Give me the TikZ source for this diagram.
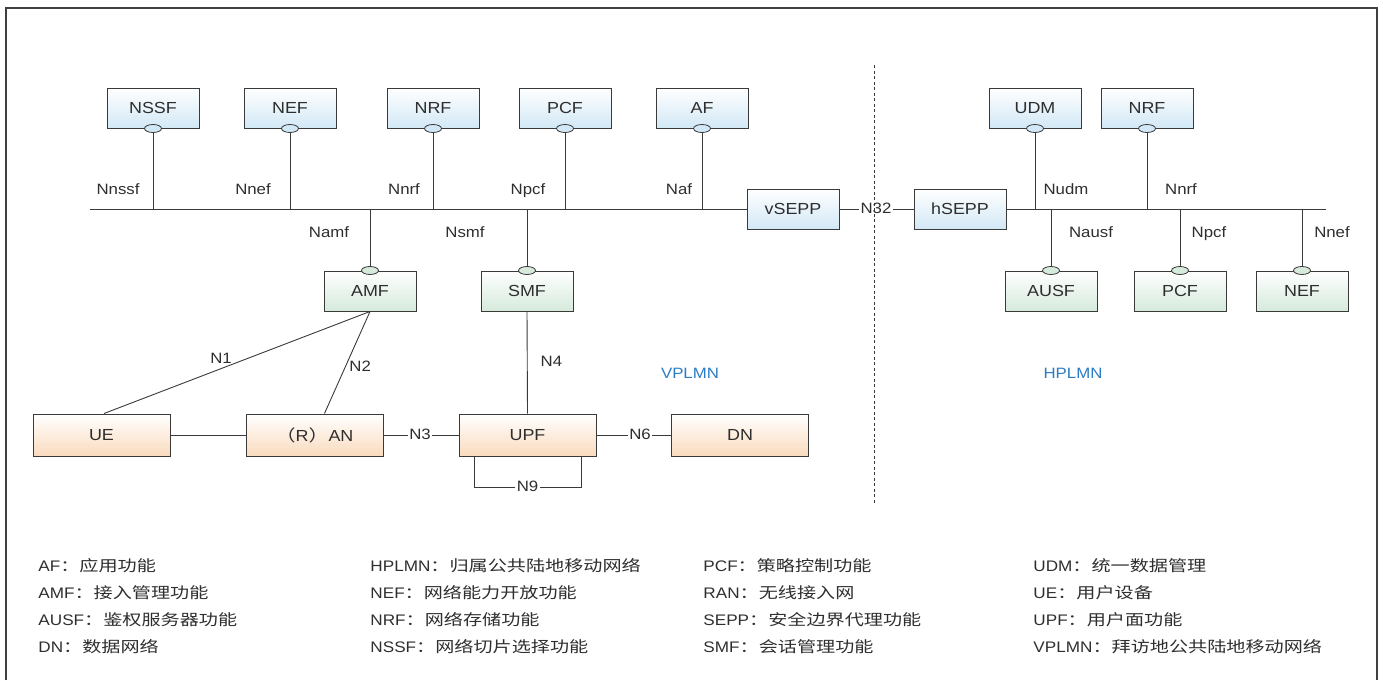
\documentclass[tikz,border=0pt]{standalone}
\usepackage{fontspec}
\setmainfont[FakeStretch=1.12]{Liberation Sans}
\newfontfamily\cjk[FakeStretch=1.25]{Noto Sans CJK SC}
\usetikzlibrary{shapes.geometric}
\definecolor{nfblue}{HTML}{D2E8F6}
\definecolor{nfgreen}{HTML}{D5EADB}
\definecolor{nforange}{HTML}{FADBBE}
\definecolor{linegray}{HTML}{3A3A3A}
\definecolor{textgray}{HTML}{2E2E2E}
\definecolor{plmnblue}{HTML}{2B7CC4}
\newcommand*{\lgd}[2]{#1{\cjk ：#2}}

\begin{document}
\begin{tikzpicture}[x=1pt, y=-1pt, line width=0.9pt, draw=linegray, text=textgray,
	nf/.style={draw=linegray, line width=1pt, minimum width=92pt, minimum height=40pt, inner sep=0pt, top color=white, font=\fontsize{16}{16}\selectfont},
	nfv/.style={nf, bottom color=nfblue},
	nfh/.style={nf, bottom color=nfgreen},
	nfu/.style={nf, minimum width=137pt, minimum height=42pt, bottom color=nforange},
	sbi/.style={draw=linegray, line width=0.8pt, ellipse, minimum width=17pt, minimum height=8pt, inner sep=0pt},
	lbl/.style={inner sep=1pt, text height=11pt, text depth=3pt, font=\fontsize{15}{15}\selectfont},
	lgd/.style={anchor=west, inner sep=0pt, font=\fontsize{15.3}{15.3}\selectfont},
	plmn/.style={text=plmnblue, font=\fontsize{15}{15}\selectfont}]
		\useasboundingbox (0,0) rectangle (1383,680);
		\draw[line width=1.5pt, draw=black!75] (6,680) -- (6,8) -- (1377,8) -- (1377,680);
		
		% visited network
		\coordinate (busL) at (90,209);
		\node[nfv] (nssf) at (153,108) {NSSF};
		\node[nfv] (nef) at (290,108) {NEF};
		\node[nfv] (nrf) at (433,108) {NRF};
		\node[nfv] (pcf) at (565,108) {PCF};
		\node[nfv] (af) at (702,108) {AF};
		\node[sbi, fill=nfblue] (nssf-e) at (nssf.south) {};
		\node[sbi, fill=nfblue] (nef-e) at (nef.south) {};
		\node[sbi, fill=nfblue] (nrf-e) at (nrf.south) {};
		\node[sbi, fill=nfblue] (pcf-e) at (pcf.south) {};
		\node[sbi, fill=nfblue] (af-e) at (af.south) {};
		\node[nfv] (vsepp) at (793,209) {vSEPP};
		\draw (busL) -- (vsepp.west);
		\draw (nssf-e.south) -- (nssf-e.south |- busL);
		\draw (nef-e.south) -- (nef-e.south |- busL);
		\draw (nrf-e.south) -- (nrf-e.south |- busL);
		\draw (pcf-e.south) -- (pcf-e.south |- busL);
		\draw (af-e.south) -- (af-e.south |- busL);
		\node[lbl] (l-nssf) at (118,190) {Nnssf};
		\node[lbl] (l-nef) at (253,190) {Nnef};
		\node[lbl] (l-nrf) at (404,190) {Nnrf};
		\node[lbl] (l-pcf) at (528,190) {Npcf};
		\node[lbl] (l-af) at (679,190) {Naf};
		
		\node[nfh] (amf) at (370,291) {AMF};
		\node[nfh] (smf) at (527,291) {SMF};
		\node[sbi, fill=nfgreen] (amf-e) at (amf.north) {};
		\node[sbi, fill=nfgreen] (smf-e) at (smf.north) {};
		\draw (amf-e.north) -- (amf-e.north |- busL);
		\draw (smf-e.north) -- (smf-e.north |- busL);
		\node[lbl] (l-amf) at (329,233) {Namf};
		\node[lbl] (l-smf) at (465,233) {Nsmf};
		
		% user plane
		\node[nfu] (ue) at (101.5,435) {UE};
		\node[nfu] (ran) at (314.5,435) {{\cjk （}R{\cjk ）}AN};
		\node[nfu] (upf) at (527.5,435) {UPF};
		\node[nfu] (dn) at (740,435) {DN};
		\node[lbl] (n3) at (420,435) {N3};
		\node[lbl] (n6) at (640,435) {N6};
		\node[lbl] (n9) at (527.5,487) {N9};
		\draw (ue) -- (ran);
		\draw (ran) -- (n3) -- (upf);
		\draw (upf) -- (n6) -- (dn);
		\draw ([xshift=-53.5pt]upf.south) |- (n9.west);
		\draw ([xshift=53.5pt]upf.south) |- (n9.east);
		\draw ([xshift=2.5pt]ue.north) -- (amf.south) node[lbl, pos=0.44, above=1pt] (n1) {N1};
		\draw ([xshift=10pt]ran.north) -- (amf.south) node[lbl, pos=0.45, right=3pt] (n2) {N2};
		\draw (smf.south) -- (upf.north) node[lbl, midway, right=12pt] (n4) {N4};
		\node[plmn] (vplmn) at (690,373) {VPLMN};
		
		% home network
		\draw[line width=0.8pt, dash pattern=on 3pt off 2.5pt] (874,65) -- (874,503);
		\node[nfv] (hsepp) at (960,209) {hSEPP};
		\node[lbl] (n32) at (876,209) {N32};
		\draw (vsepp) -- (n32) -- (hsepp);
		\coordinate (busR) at (1326,209);
		\draw (hsepp.east) -- (busR);
		\node[nfv] (udm) at (1035,108) {UDM};
		\node[nfv] (hnrf) at (1147,108) {NRF};
		\node[sbi, fill=nfblue] (udm-e) at (udm.south) {};
		\node[sbi, fill=nfblue] (hnrf-e) at (hnrf.south) {};
		\draw (udm-e.south) -- (udm-e.south |- busR);
		\draw (hnrf-e.south) -- (hnrf-e.south |- busR);
		\node[lbl] (l-udm) at (1066,190) {Nudm};
		\node[lbl] (l-hnrf) at (1181,190) {Nnrf};
		\node[nfh] (ausf) at (1051,291) {AUSF};
		\node[nfh] (hpcf) at (1180,291) {PCF};
		\node[nfh] (hnef) at (1302,291) {NEF};
		\node[sbi, fill=nfgreen] (ausf-e) at (ausf.north) {};
		\node[sbi, fill=nfgreen] (hpcf-e) at (hpcf.north) {};
		\node[sbi, fill=nfgreen] (hnef-e) at (hnef.north) {};
		\draw (ausf-e.north) -- (ausf-e.north |- busR);
		\draw (hpcf-e.north) -- (hpcf-e.north |- busR);
		\draw (hnef-e.north) -- (hnef-e.north |- busR);
		\node[lbl] (l-ausf) at (1091,233) {Nausf};
		\node[lbl] (l-hpcf) at (1209,233) {Npcf};
		\node[lbl] (l-hnef) at (1332,233) {Nnef};
		\node[plmn] (hplmn) at (1073,373) {HPLMN};
		
		% legend
		\node[lgd] (g1) at (38,566) {\lgd{AF}{应用功能}};
		\node[lgd] (g2) at (38,593) {\lgd{AMF}{接入管理功能}};
		\node[lgd] (g3) at (38,620) {\lgd{AUSF}{鉴权服务器功能}};
		\node[lgd] (g4) at (38,647) {\lgd{DN}{数据网络}};
		\node[lgd] (g5) at (370,566) {\lgd{HPLMN}{归属公共陆地移动网络}};
		\node[lgd] (g6) at (370,593) {\lgd{NEF}{网络能力开放功能}};
		\node[lgd] (g7) at (370,620) {\lgd{NRF}{网络存储功能}};
		\node[lgd] (g8) at (370,647) {\lgd{NSSF}{网络切片选择功能}};
		\node[lgd] (g9) at (703,566) {\lgd{PCF}{策略控制功能}};
		\node[lgd] (g10) at (703,593) {\lgd{RAN}{无线接入网}};
		\node[lgd] (g11) at (703,620) {\lgd{SEPP}{安全边界代理功能}};
		\node[lgd] (g12) at (703,647) {\lgd{SMF}{会话管理功能}};
		\node[lgd] (g13) at (1033,566) {\lgd{UDM}{统一数据管理}};
		\node[lgd] (g14) at (1033,593) {\lgd{UE}{用户设备}};
		\node[lgd] (g15) at (1033,620) {\lgd{UPF}{用户面功能}};
		\node[lgd] (g16) at (1033,647) {\lgd{VPLMN}{拜访地公共陆地移动网络}};
\end{tikzpicture}
\end{document}
